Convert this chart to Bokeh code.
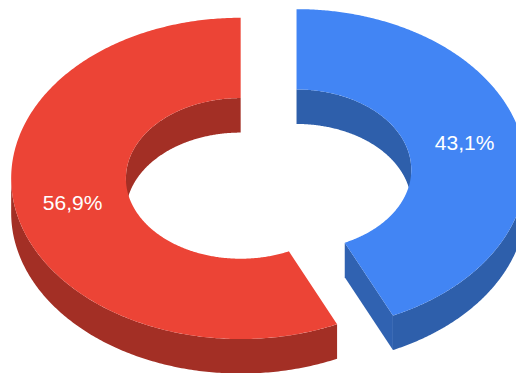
import numpy as np
from bokeh.core.properties import value
from bokeh.embed import file_html
from bokeh.plotting import figure
from bokeh.resources import INLINE

# Share of each slice, clockwise from twelve o'clock
shares = [43.1, 56.9]
top_colors = ["#4285f4", "#ec4436"]
side_colors = ["#2e5fab", "#a32f25"]
cut_colors = ["#3062b1", "#a32f25"]

# Ring geometry in page pixels
center_x, center_y = 268.1, 173.6
radius_x, tilt = 229.5, 0.7
hole = 0.5
depth = 34.5
explode = 28.6
label_radius = 0.75
label_font = "Liberation Sans"
label_size = "21px"
WIDTH, HEIGHT = 516, 373


def rim(cx, cy, scale, a0, a1, drop=0.0, n=180):
    """Points along an ellipse arc; angles are degrees clockwise from the top."""
    t = np.radians(np.linspace(a0, a1, n))
    return (cx + scale * radius_x * np.sin(t),
            cy - scale * radius_x * tilt * np.cos(t) + drop)


p = figure(width=WIDTH, height=HEIGHT, x_range=(0, WIDTH), y_range=(HEIGHT, 0),
           output_backend="svg", toolbar_location=None,
           x_axis_location=None, y_axis_location=None,
           min_border=0, outline_line_color=None, background_fill_color="white",
           border_fill_color="white")
p.grid.visible = False


def wall(cx, cy, scale, a0, a1, color):
    """Vertical band hanging below an arc of the ring."""
    xa, ya = rim(cx, cy, scale, a0, a1)
    xb, yb = rim(cx, cy, scale, a0, a1, depth)
    p.patch(np.r_[xa, xb[::-1]], np.r_[ya, yb[::-1]], fill_color=color, line_color=None)


start = 0.0
for share, top, side, cut in zip(shares, top_colors, side_colors, cut_colors):
    end = start + share * 3.6
    mid = np.radians((start + end) / 2)
    cx = center_x + explode * np.sin(mid)
    cy = center_y - explode * tilt * np.cos(mid)

    # Inner wall: only the far side of the hole shows
    if start < 90:
        wall(cx, cy, hole, start, min(end, 90), side)
    if end > 270:
        wall(cx, cy, hole, max(start, 270), end, side)

    # Outer wall: the near half of the rim
    if start < 270 and end > 90:
        wall(cx, cy, 1, max(start, 90), min(end, 270), side)

    # Cut face at the clockwise end of a slice that stops on the near right
    if 90 < end < 180:
        xo, yo = rim(cx, cy, 1, end, end, n=1)
        xi, yi = rim(cx, cy, hole, end, end, n=1)
        p.patch([xi[0], xo[0], xo[0], xi[0]],
                [yi[0], yo[0], yo[0] + depth, yi[0] + depth],
                fill_color=cut, line_color=None)

    # Top surface
    xo, yo = rim(cx, cy, 1, start, end, n=360)
    xi, yi = rim(cx, cy, hole, start, end, n=360)
    p.patch(np.r_[xo, xi[::-1]], np.r_[yo, yi[::-1]], fill_color=top, line_color=None)

    # Value label on the ring's mid-line
    text = f"{share:.1f}".replace(".", ",") + "%"
    p.text([cx + label_radius * radius_x * np.sin(mid)],
           [cy - label_radius * radius_x * tilt * np.cos(mid)],
           text=[text], text_color="white", text_align="center", text_baseline="middle",
           y_offset=-1.5, text_font=value(label_font), text_font_size=label_size)
    start = end

open("out.html", "w").write(file_html(p, INLINE))
